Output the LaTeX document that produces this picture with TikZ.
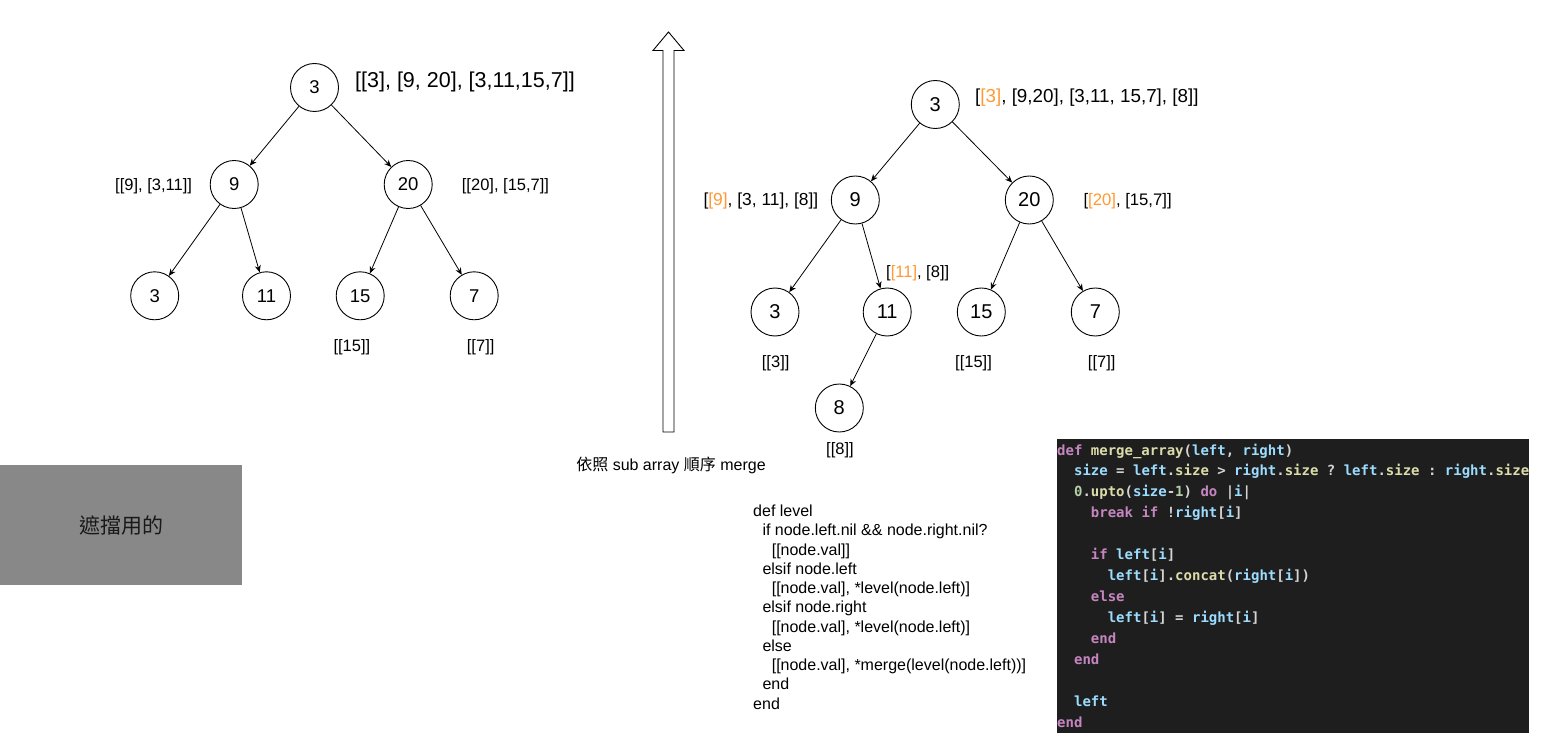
\documentclass[tikz,border=0pt]{standalone}
\usepackage{fontspec}
\setmainfont{Liberation Sans}
\newfontfamily\cjk{Noto Sans CJK TC}
\newfontfamily\codefont{DejaVu Sans Mono}
\usetikzlibrary{arrows.meta}
\definecolor{orng}{HTML}{FF9933}
\definecolor{codebg}{HTML}{1E1E1E}
\definecolor{ckw}{HTML}{C586C0}
\definecolor{cfn}{HTML}{DCDCAA}
\definecolor{cvr}{HTML}{9CDCFE}
\definecolor{cpu}{HTML}{D4D4D4}
\definecolor{cnm}{HTML}{B5CEA8}
\definecolor{boxgray}{HTML}{888888}
\newcommand\Kw[1]{\textcolor{ckw}{#1}}
\newcommand\Fn[1]{\textcolor{cfn}{#1}}
\newcommand\Vr[1]{\textcolor{cvr}{#1}}
\newcommand\Pu[1]{\textcolor{cpu}{#1}}
\newcommand\Nm[1]{\textcolor{cnm}{#1}}
\newcommand\Og[1]{\textcolor{orng}{#1}}
\frenchspacing
\begin{document}
\begin{tikzpicture}[x=1pt,y=-1pt,
  tnode/.style={circle,draw,line width=0.9pt,minimum size=48pt,inner sep=0pt},
  lt/.style={tnode,font=\fontsize{18.5}{22}\selectfont},
  rt/.style={tnode,font=\fontsize{20}{24}\selectfont},
  edge/.style={draw,line width=0.8pt,-{Stealth[length=7pt,width=6pt]}},
  lab/.style={inner sep=0pt,anchor=west,font=\fontsize{16.5}{20}\selectfont},
  pseudo/.style={inner sep=0pt,anchor=base west,font=\fontsize{16}{19}\selectfont},
  codeline/.style={inner sep=0pt,anchor=base west,font=\codefont\bfseries\fontsize{14}{21}\selectfont\frenchspacing},
]
\useasboundingbox[fill=white] (0,0) rectangle (1553,738);

% ---------- left tree ----------
\node[lt] (a1) at (314.5,87.5) {3};
\node[lt] (a2) at (234.2,184.5) {9};
\node[lt] (a3) at (408.2,184.5) {20};
\node[lt] (a4) at (154.7,295.8) {3};
\node[lt] (a5) at (266.5,295.8) {11};
\node[lt] (a6) at (360.2,295.8) {15};
\node[lt] (a7) at (474.2,295.8) {7};
\path[edge] (a1) -- (a2);
\path[edge] (a1) -- (a3);
\path[edge] (a2) -- (a4);
\path[edge] (a2) -- (a5);
\path[edge] (a3) -- (a6);
\path[edge] (a3) -- (a7);

\node[lab,font=\fontsize{21.5}{25}\selectfont] (la1) at (355,81.7) {[[3], [9, 20], [3,11,15,7]]};
\node[lab] (la2) at (115,186) {[[9], [3,11]]};
\node[lab] (la3) at (461.7,186) {[[20], [15,7]]};
\node[lab] (la6) at (333.3,347.5) {[[15]]};
\node[lab] (la7) at (466.7,347.5) {[[7]]};

% ---------- block arrow ----------
\draw[fill=white,line width=0.9pt] (663,432) -- (663,50.5) -- (653,50.5) -- (668.5,32)
  -- (684,50.5) -- (674,50.5) -- (674,432) -- cycle;
\node[inner sep=0pt,font=\fontsize{16}{19}\selectfont] (cap) at (671,465)
  {{\cjk 依照} sub array {\cjk 順序} merge};

% ---------- right tree ----------
\node[rt] (b1) at (935.3,104.5) {3};
\node[rt] (b2) at (855.3,200) {9};
\node[rt] (b3) at (1029.3,200) {20};
\node[rt] (b4) at (775,312) {3};
\node[rt] (b5) at (887.2,312) {11};
\node[rt] (b6) at (981.3,312) {15};
\node[rt] (b7) at (1095.3,312) {7};
\node[rt] (b8) at (839.3,408) {8};
\path[edge] (b1) -- (b2);
\path[edge] (b1) -- (b3);
\path[edge] (b2) -- (b4);
\path[edge] (b2) -- (b5);
\path[edge] (b3) -- (b6);
\path[edge] (b3) -- (b7);
\path[edge] (b5) -- (b8);

\node[lab,font=\fontsize{18.8}{22}\selectfont] (lb1) at (975,97.2) {[\Og{[3]}, [9,20], [3,11, 15,7], [8]]};
\node[lab,font=\fontsize{17.4}{21}\selectfont] (lb2) at (703.3,201.3) {[\Og{[9]}, [3, 11], [8]]};
\node[lab,font=\fontsize{16.7}{20}\selectfont] (lb3) at (1083.3,201) {[\Og{[20]}, [15,7]]};
\node[lab] (lb5) at (886,273.7) {[\Og{[11]}, [8]]};
\node[lab] (lb4) at (761.7,363) {[[3]]};
\node[lab] (lb6) at (955,363) {[[15]]};
\node[lab] (lb7) at (1087.7,363) {[[7]]};
\node[lab] (lb8) at (826,450) {[[8]]};

% ---------- gray cover box ----------
\node[fill=boxgray,minimum width=242pt,minimum height=120pt,inner sep=0pt,anchor=north west,
  font=\cjk\fontsize{21}{25}\selectfont,text=black!90] (cover) at (0,465) {遮擋用的};

% ---------- pseudocode ----------
\node[pseudo] (p1) at (753,516.5) {def level};
\node[pseudo] (p2) at (762.3,535.75) {if node.left.nil \&\& node.right.nil?};
\node[pseudo] (p3) at (771.6,555) {[[node.val]]};
\node[pseudo] (p4) at (762.3,574.25) {elsif node.left};
\node[pseudo] (p5) at (771.6,593.5) {[[node.val], *level(node.left)]};
\node[pseudo] (p6) at (762.3,612.75) {elsif node.right};
\node[pseudo] (p7) at (771.6,632) {[[node.val], *level(node.left)]};
\node[pseudo] (p8) at (762.3,651.25) {else};
\node[pseudo] (p9) at (771.6,670.5) {[[node.val], *merge(level(node.left))]};
\node[pseudo] (p10) at (762.3,689.75) {end};
\node[pseudo] (p11) at (753,709) {end};

% ---------- code block ----------
\fill[codebg] (1057,438.5) rectangle (1529,733);
\begin{scope}
\clip (1057,438.5) rectangle (1529,733);
\node[codeline] (c1) at (1057,455) {\Kw{def} \Fn{merge\_array}\Pu{(}\Vr{left}\Pu{,} \Vr{right}\Pu{)}};
\node[codeline] (c2) at (1073.86,475.95) {\Vr{size} \Pu{=} \Vr{left}\Pu{.}\Fn{size} \Pu{>} \Vr{right}\Pu{.}\Fn{size} \Pu{?} \Vr{left}\Pu{.}\Fn{size} \Pu{:} \Vr{right}\Pu{.}\Fn{size}};
\node[codeline] (c3) at (1073.86,496.9) {\Nm{0}\Pu{.}\Fn{upto}\Pu{(}\Vr{size}\Pu{-}\Nm{1}\Pu{)} \Kw{do} \Pu{|}\Vr{i}\Pu{|}};
\node[codeline] (c4) at (1090.72,517.85) {\Kw{break} \Kw{if} \Pu{!}\Vr{right}\Pu{[}\Vr{i}\Pu{]}};
\node[codeline] (c6) at (1090.72,559.75) {\Kw{if} \Vr{left}\Pu{[}\Vr{i}\Pu{]}};
\node[codeline] (c7) at (1107.58,580.7) {\Vr{left}\Pu{[}\Vr{i}\Pu{].}\Fn{concat}\Pu{(}\Vr{right}\Pu{[}\Vr{i}\Pu{])}};
\node[codeline] (c8) at (1090.72,601.65) {\Kw{else}};
\node[codeline] (c9) at (1107.58,622.6) {\Vr{left}\Pu{[}\Vr{i}\Pu{]} \Pu{=} \Vr{right}\Pu{[}\Vr{i}\Pu{]}};
\node[codeline] (c10) at (1090.72,643.55) {\Kw{end}};
\node[codeline] (c11) at (1073.86,664.5) {\Kw{end}};
\node[codeline] (c13) at (1073.86,706.4) {\Vr{left}};
\node[codeline] (c14) at (1057,727.35) {\Kw{end}};
\end{scope}
\end{tikzpicture}
\end{document}
